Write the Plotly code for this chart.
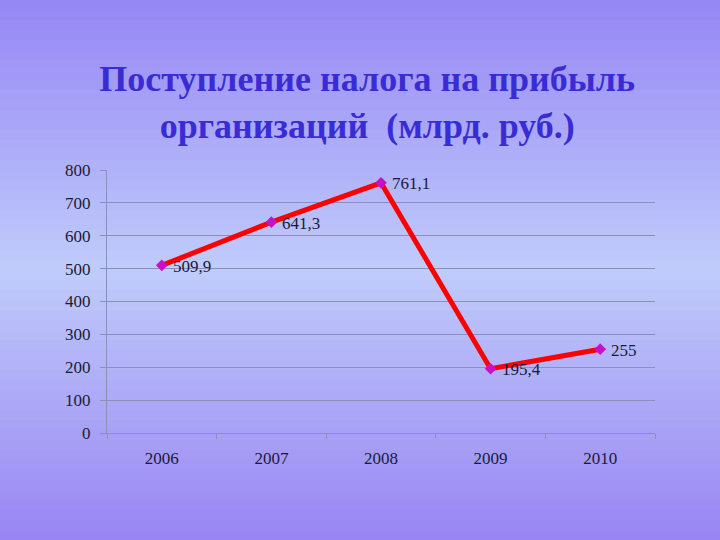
import plotly.graph_objects as go

# Data
years = ['2006', '2007', '2008', '2009', '2010']
tax_income = [509.9, 641.3, 761.1, 195.4, 255]
y_ticks = [0, 100, 200, 300, 400, 500, 600, 700, 800]

labels = [f'{v:g}'.replace('.', ',') for v in tax_income]

W, H = 720, 540
L, R, T, B = 107, 65, 170, 107

fig = go.Figure()
fig.add_scatter(x=years, y=tax_income, mode='lines+markers',
                line=dict(color='#ff0000', width=5),
                marker=dict(symbol='diamond', size=9, color='#c810c8'),
                cliponaxis=False, showlegend=False)

# data labels; on a category axis the annotation x is the category index
for i, (v, lab) in enumerate(zip(tax_income, labels)):
    fig.add_annotation(x=i, y=v, text=lab, showarrow=False, xanchor='left',
                       xshift=9, yshift=-1,
                       font=dict(family='Liberation Serif', size=17, color='#1a1a3a'))


def mix(c1, c2, t):
    return '#%02x%02x%02x' % tuple(round(a + (b - a) * t) for a, b in zip(c1, c2))


def to_paper(py):
    # pixel row -> paper y
    return (H - B - py) / (H - T - B)


# vertical gradient background, purple -> light lavender -> purple
top, mid, bottom = (150, 134, 245), (192, 204, 250), (152, 132, 243)
n = 54
step = H / n
shapes = []
for i in range(n):
    f = (i + 0.5) / n
    if f < 0.5:
        col = mix(top, mid, f / 0.5)
    else:
        col = mix(mid, bottom, (f - 0.5) / 0.5)
    shapes.append(dict(type='rect', xref='paper', yref='paper', layer='below',
                       x0=-0.3, x1=1.3, y0=to_paper((i + 1) * step + 0.5), y1=to_paper(i * step),
                       line=dict(width=0), fillcolor=col))

fig.update_layout(
    width=W, height=H,
    margin=dict(l=L, r=R, t=T, b=B),
    paper_bgcolor='#aab0f7', plot_bgcolor='rgba(0,0,0,0)',
    shapes=shapes,
    title=dict(text='Поступление налога на прибыль<br>организаций  (млрд. руб.)',
               x=0.51, xanchor='center', y=1 - 91 / H, yanchor='middle',
               font=dict(family='Liberation Serif', size=36, color='#3a2cd4', weight='bold')),
    xaxis=dict(type='category', range=[-0.5, 4.5], tickson='boundaries', ticks='outside', ticklen=5,
               tickcolor='#8a90b8', showline=True, linecolor='#8a90b8', linewidth=1,
               showgrid=False, ticklabelstandoff=10,
               tickfont=dict(family='Liberation Serif', size=17, color='#1a1a3a')),
    yaxis=dict(range=[0, 800], tickvals=y_ticks, ticks='outside', ticklen=6,
               tickcolor='#8a90b8', showline=True, linecolor='#8a90b8', linewidth=1,
               gridcolor='#8a90b8', gridwidth=1, zeroline=False, ticklabelstandoff=6,
               tickfont=dict(family='Liberation Serif', size=17, color='#1a1a3a')),
)

fig.write_html('out.html', config={'displayModeBar': False},
               post_script="document.body.style.margin='0';")
